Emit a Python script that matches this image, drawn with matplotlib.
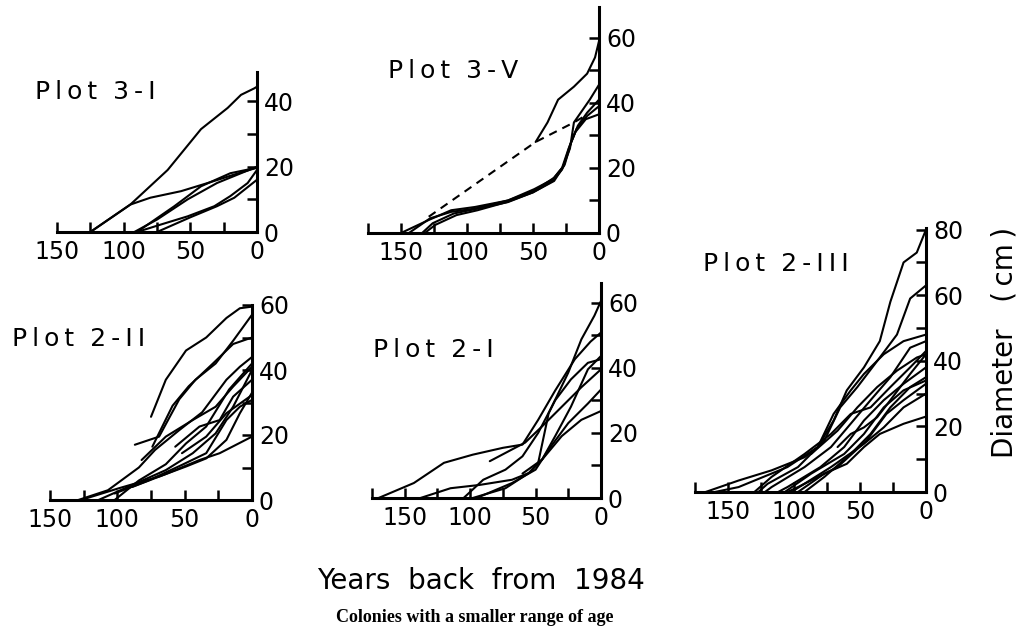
import matplotlib

matplotlib.use("Agg")
import matplotlib.pyplot as plt
from matplotlib import font_manager
from matplotlib.ticker import MultipleLocator

W, H = 1021, 640

# each curve: years back from 1984, diameter (cm)
P3I_YEARS = [
    [125, 95, 67, 42, 22, 12, 2, 0],
    [125, 95, 80, 57, 37, 17, 0],
    [92, 75, 52, 30, 12, 0],
    [90, 72, 52, 32, 20, 7, 0],
    [75, 50, 30, 17, 0],
    [90, 62, 42, 20, 0],
]
P3I_DIAM = [
    [0, 8.4, 19, 31.5, 38, 42, 44, 44.5],
    [0, 8.4, 10.5, 12.5, 15, 17.6, 19.7],
    [0, 3.8, 10, 15, 18, 20],
    [0, 2.3, 4.8, 7.9, 11, 15, 19],
    [0, 4.5, 7.9, 10.5, 16],
    [0, 7.9, 14, 18, 19.7],
]

P3V_YEARS = [
    [48, 39, 31, 19, 9, 3, 0],
    [150, 129, 112, 94, 69, 49, 34, 27, 22, 17, 9, 0],
    [144, 128, 112, 94, 69, 49, 35, 28, 23, 18, 10, 0],
    [134, 126, 110, 92, 69, 50, 34, 26, 21, 16, 9, 0],
    [132, 124, 108, 92, 70, 50, 35, 28, 22, 19, 7, 0],
]
P3V_DIAM = [
    [28, 34, 41, 45, 49, 54, 59],
    [0, 4, 7, 8, 10, 13, 17, 20.5, 27, 32, 36, 39],
    [0, 4.5, 6.5, 7.5, 10, 13.5, 16.5, 20, 26, 31, 35, 36.5],
    [0, 3, 6, 7.5, 9.5, 12.5, 16, 21, 28, 33, 37, 41],
    [0, 2.5, 5.5, 7, 9.5, 12.5, 16, 19.5, 26, 34, 41, 45.6],
]
P3V_DASH_YEARS = [129, 48, 19, 9]
P3V_DASH_DIAM = [5, 28, 34, 36.4]

P2II_YEARS = [
    [75, 64, 49, 34, 19, 9, 0],
    [87, 69, 54, 42, 27, 14, 0],
    [74, 59, 47, 29, 14, 0],
    [129, 107, 84, 72, 54, 37, 19, 9, 0],
    [102, 84, 64, 49, 34, 17, 0],
    [114, 89, 64, 44, 27, 14, 0],
    [57, 39, 24, 14, 0],
    [127, 99, 69, 49, 34, 19, 9, 0],
    [102, 77, 52, 34, 19, 9, 0],
    [89, 64, 39, 24, 0],
    [52, 34, 19, 0],
    [82, 64, 44, 27, 14, 0],
]
P2II_DIAM = [
    [25.6, 37, 46, 50, 56, 59, 59.5],
    [17, 19.5, 31, 37, 42, 49, 57],
    [16.4, 29, 35, 42, 48, 50],
    [0, 3, 10, 15.4, 21.5, 27, 37, 41, 44],
    [0, 6, 11, 17.4, 22.6, 34, 42],
    [0, 4.6, 9.2, 14.4, 20.5, 28.7, 40],
    [16.4, 22.6, 24.6, 31.8, 37],
    [0, 3.6, 7.2, 10.3, 12.8, 18.5, 26.7, 33],
    [2, 6, 10.8, 14.4, 24.6, 28.7, 30.8],
    [4, 8, 12.3, 14.4, 19.5],
    [14.4, 19.5, 26.7, 32.3],
    [12.3, 19.5, 24.6, 28.7, 34.9, 41],
]

P2I_YEARS = [
    [170, 143, 120, 98, 75, 60, 48, 35, 20, 8, 0],
    [85, 68, 58, 45, 30, 15, 0],
    [138, 115, 93, 68, 55, 48, 40, 25, 15, 5, 0],
    [105, 90, 73, 60, 48, 35, 23, 10, 0],
    [98, 73, 55, 45, 35, 23, 10, 0],
    [95, 68, 50, 40, 25, 10, 0],
    [60, 45, 30, 15, 0],
]
P2I_DIAM = [
    [0, 4.6, 10.8, 13.3, 15.4, 16.4, 24, 33, 42.6, 48, 50.8],
    [11.3, 14.9, 17, 22, 28, 34, 39.5],
    [0, 3, 4, 5.6, 7.7, 10.8, 26, 38.5, 48.7, 56, 60.5],
    [0, 5.6, 8.7, 12.8, 20, 30, 36.4, 41.5, 42.6],
    [0, 3, 7.7, 11.8, 19, 28, 39.5, 43.6],
    [0, 4.6, 8.7, 14.9, 23, 29, 33.3],
    [7.5, 11.8, 19, 24, 26.7],
]

P2III_YEARS = [
    [167, 142, 117, 92, 82, 70, 60, 47, 35, 27, 17, 7, 0],
    [127, 120, 97, 77, 65, 52, 35, 22, 12, 0],
    [160, 142, 105, 82, 70, 57, 47, 32, 17, 0],
    [122, 117, 92, 72, 55, 42, 27, 12, 0],
    [130, 117, 92, 72, 57, 42, 27, 12, 0],
    [112, 105, 80, 62, 47, 32, 17, 0],
    [107, 87, 62, 47, 32, 17, 0],
    [105, 97, 67, 45, 30, 17, 0],
    [102, 72, 47, 32, 17, 0],
    [97, 77, 60, 47, 35, 17, 0],
    [92, 77, 57, 42, 27, 12, 0],
    [67, 57, 47, 37, 27, 12, 0],
    [87, 67, 52, 37, 22, 7, 0],
]
P2III_DIAM = [
    [0, 3.5, 6.6, 10.6, 13.7, 21.8, 31, 38, 46, 58, 70, 73, 80],
    [0, 2.5, 7.6, 15.7, 25.8, 32, 41, 48, 59, 63],
    [0, 1.5, 7.6, 13.7, 23.8, 31, 36, 42, 46, 48],
    [0, 1.5, 7.6, 13.7, 21.8, 28, 35, 44, 46],
    [0, 4.6, 11.6, 17.7, 23.8, 25.8, 32, 38, 43],
    [0, 1.5, 7.6, 13.7, 21.8, 28, 33, 38],
    [0, 5.6, 11.6, 17.7, 25.8, 31, 34],
    [0, 1.5, 7.6, 15.7, 23.8, 28, 33],
    [0, 7.6, 14.7, 19.7, 25.8, 30],
    [0, 5.6, 8.6, 13.7, 17.7, 20.8, 23],
    [0, 4.6, 11.6, 17.7, 25.8, 32, 35],
    [13.7, 17.7, 19.7, 22.8, 28, 36, 42],
    [11.6, 18.7, 25.8, 32, 37, 41, 42],
]

T = "\u2009"  # thin space for the spaced-out lettering
TITLES = [
    T.join("Plot") + "  " + T.join("3-I"),
    T.join("Plot") + "  " + T.join("3-V"),
    T.join("Plot") + "  " + T.join("2-II"),
    T.join("Plot") + "  " + T.join("2-I"),
    T.join("Plot") + "  " + T.join("2-III"),
]

# per panel: curves, xmax, ymax, pixel box (x at xmax, x at 0, y at top, y at 0), title pos
PANELS = [
    (P3I_YEARS, P3I_DIAM, 150, 49, (57, 257, 72, 232), (35, 92)),
    (P3V_YEARS, P3V_DIAM, 175, 69.5, (368, 599, 7, 233), (388, 71)),
    (P2II_YEARS, P2II_DIAM, 150, 60, (50, 252, 305, 500), (12, 339)),
    (P2I_YEARS, P2I_DIAM, 175, 66, (372, 601, 283, 498), (373, 350)),
    (P2III_YEARS, P2III_DIAM, 175, 80.5, (695, 926, 228, 492), (703, 264)),
]

names = {f.name for f in font_manager.fontManager.ttflist}
if "Liberation Sans Narrow" in names:
    NARROW, TICK_SIZE, DIAM_SIZE = "Liberation Sans Narrow", 21, 26
else:
    NARROW, TICK_SIZE, DIAM_SIZE = "DejaVu Sans", 17, 20

plt.rcParams["font.family"] = "DejaVu Sans"
fig = plt.figure(figsize=(W / 100, H / 100), dpi=100)

for i, (xs, ys, xmax, ymax, (x0, x1, yt, yb), (tx, ty)) in enumerate(PANELS):
    ax = fig.add_axes([x0 / W, 1 - yb / H, (x1 - x0) / W, (yb - yt) / H])
    ax.patch.set_alpha(0)
    for px, py in zip(xs, ys):
        ax.plot(px, py, color="black", lw=1.5, solid_capstyle="round", clip_on=False)
    if i == 1:
        ax.plot(P3V_DASH_YEARS, P3V_DASH_DIAM, color="black", lw=1.5, ls=(0, (4, 3)))
    ax.set_xlim(xmax, 0)
    ax.set_ylim(0, ymax)
    for s in ("left", "top"):
        ax.spines[s].set_visible(False)
    for s in ("right", "bottom"):
        ax.spines[s].set_linewidth(2.2)
    ax.yaxis.tick_right()
    ax.xaxis.set_major_locator(MultipleLocator(50))
    ax.xaxis.set_minor_locator(MultipleLocator(25))
    ax.yaxis.set_major_locator(MultipleLocator(20))
    ax.yaxis.set_minor_locator(MultipleLocator(10))
    ax.tick_params(axis="both", which="both", direction="in", width=1.8, length=7,
                   labelsize=TICK_SIZE, color="black")
    ax.tick_params(axis="x", which="major", pad=6)
    ax.tick_params(axis="y", which="major", pad=5)
    for lab in ax.get_xticklabels() + ax.get_yticklabels():
        lab.set_family(NARROW)
    fig.text(tx / W, 1 - ty / H, TITLES[i], fontsize=18, va="center", ha="left")

fig.text(1004 / W, 1 - 342 / H, "Diameter   (" + T + "cm" + T + ")", rotation=90,
         fontsize=DIAM_SIZE, family=NARROW, ha="center", va="center")
fig.text(481 / W, 1 - 581 / H, "Years  back  from  1984", fontsize=20,
         ha="center", va="center")
fig.text(475 / W, 1 - 617 / H, "Colonies with a smaller range of age", fontsize=13,
         family="Liberation Serif", weight="bold", ha="center", va="center")

fig.savefig("out.png", dpi=100)
